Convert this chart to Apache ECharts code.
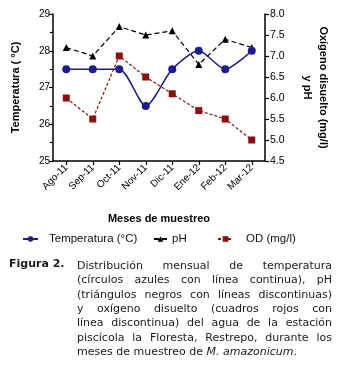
<!DOCTYPE html>
<html><head><meta charset="utf-8">
<script src="https://cdn.jsdelivr.net/npm/echarts@6/dist/echarts.min.js"></script>
<style>html,body{margin:0;padding:0;background:#fff}#c{width:339px;height:365px}</style>
</head><body><div id="c"></div>
<script>
const categories = ['Ago-11','Sep-11','Oct-11','Nov-11','Dic-11','Ene-12','Feb-12','Mar-12'];
const temperatura = [27.5, 27.5, 27.5, 26.5, 27.5, 28.0, 27.5, 28.0];
const ph = [7.2, 7.0, 7.7, 7.5, 7.6, 6.8, 7.4, 7.2];
const od = [6.0, 5.5, 7.0, 6.5, 6.1, 5.7, 5.5, 5.0];
const leftTicks = {min: 25, max: 29, interval: 1};
const rightTicks = {min: 4.5, max: 8, interval: 0.5};
const seriesNames = ['Temperatura (°C)', 'pH', 'OD (mg/l)'];
const captionLines = [
  'Distribución mensual de temperatura',
  '(círculos azules con línea continua), pH',
  '(triángulos negros con líneas discontinuas)',
  'y oxígeno disuelto (cuadros rojos con',
  'línea discontinua) del agua de la estación',
  'piscícola la Floresta, Restrepo, durante los'
];

const FONT = 'Liberation Sans, Arial, sans-serif';
const CAP_FONT = 'DejaVu Sans';
const CAP_SIZE = 11;
const capX0 = 77, capX1 = 332, capY0 = 266, capLH = 14.4;

const ctx = document.createElement('canvas').getContext('2d');
function w(t, style) { ctx.font = (style||'') + ' ' + CAP_SIZE + 'px "' + CAP_FONT + '"'; return ctx.measureText(t).width; }

const graphics = [];
graphics.push({type:'text', left: 9, top: capY0 - 7, style:{text:'Figura 2.', font:'bold ' + CAP_SIZE + 'px "' + CAP_FONT + '"', fill:'#1a1a1a'}});
captionLines.forEach((line, i) => {
  const words = line.split(' ');
  const total = words.reduce((s, x) => s + w(x), 0);
  const gap = (capX1 - capX0 - total) / (words.length - 1);
  let x = capX0;
  words.forEach(word => {
    graphics.push({type:'text', x: x, y: capY0 + i*capLH, style:{text: word, font: CAP_SIZE + 'px "' + CAP_FONT + '"', fill:'#1a1a1a', verticalAlign:'middle'}});
    x += w(word) + gap;
  });
});
{
  const y = capY0 + 6*capLH;
  const a = 'meses de muestreo de ', b = 'M. amazonicum', c = '.';
  graphics.push({type:'text', x: capX0, y: y, style:{text:a, font: CAP_SIZE + 'px "' + CAP_FONT + '"', fill:'#1a1a1a', verticalAlign:'middle'}});
  graphics.push({type:'text', x: capX0 + w(a), y: y, style:{text:b, font: 'italic ' + CAP_SIZE + 'px "' + CAP_FONT + '"', fill:'#1a1a1a', verticalAlign:'middle'}});
  graphics.push({type:'text', x: capX0 + w(a) + w(b,'italic'), y: y, style:{text:c, font: CAP_SIZE + 'px "' + CAP_FONT + '"', fill:'#1a1a1a', verticalAlign:'middle'}});
}

const chart = echarts.init(document.getElementById('c'), null, {renderer:'canvas'});
const axisLine = {show: true, lineStyle: {color: '#000', width: 1.5}};
const legendLeft = [22, 153, 217];
const legendIconW = [15, 13, 15];
const legendPad = [6, 0, 8];
const legends = seriesNames.map((n, i) => ({
  left: legendLeft[i], top: 233, padding: 0, itemWidth: legendIconW[i], itemHeight: 7,
  textStyle: {fontSize: 11.5, color: '#111', fontFamily: FONT, padding: [0, 0, 0, legendPad[i]]},
  data: [n]
}));
chart.setOption({
  animation: false,
  textStyle: {fontFamily: FONT},
  grid: {left: 53, right: 74, top: 14, bottom: 204},
  legend: legends,
  xAxis: {
    type: 'category', data: categories, boundaryGap: true,
    name: 'Meses de muestreo', nameLocation: 'middle', nameGap: 52,
    nameTextStyle: {fontWeight: 'bold', fontSize: 11, color: '#000', fontFamily: FONT},
    axisLine: axisLine,
    axisTick: {show: true, alignWithLabel: true, length: 4, lineStyle: {color: '#000', width: 1.2}},
    axisLabel: {color: '#000', fontSize: 10, rotate: 45, margin: 5, fontFamily: FONT, interval: 0},
    splitLine: {show: false}
  },
  yAxis: [
    {
      type: 'value', position: 'left', min: leftTicks.min, max: leftTicks.max, interval: leftTicks.interval,
      axisLine: axisLine, splitLine: {show: false},
      axisTick: {show: true, length: 4, lineStyle: {color: '#000', width: 1.2}},
      minorTick: {show: true, splitNumber: 2, length: 3, lineStyle: {color: '#000', width: 1.2}},
      axisLabel: {color: '#000', fontSize: 10, fontFamily: FONT, margin: 3},
      name: 'Temperatura ( °C)', nameLocation: 'middle', nameGap: 32, nameRotate: 90,
      nameTextStyle: {fontWeight: 'bold', fontSize: 11, color: '#000', fontFamily: FONT}
    },
    {
      type: 'value', position: 'right', min: rightTicks.min, max: rightTicks.max, interval: rightTicks.interval,
      axisLine: axisLine, splitLine: {show: false},
      axisTick: {show: true, length: 4, lineStyle: {color: '#000', width: 1.2}},
      axisLabel: {color: '#000', fontSize: 10.5, fontFamily: FONT, margin: 5, formatter: v => v.toFixed(1)},
      name: 'Oxígeno disuelto (mg/l)\ny pH', nameLocation: 'middle', nameGap: 34, nameRotate: -90,
      nameTextStyle: {fontWeight: 'bold', fontSize: 11, color: '#000', fontFamily: FONT, align: 'center', lineHeight: 16}
    }
  ],
  series: [
    {name: seriesNames[0], type: 'line', yAxisIndex: 0, data: temperatura, smooth: 0.25,
     symbol: 'circle', symbolSize: 8, z: 3,
     lineStyle: {color: '#1c1c8c', width: 1.5}, itemStyle: {color: '#1c1c8c'}},
    {name: seriesNames[1], type: 'line', yAxisIndex: 1, data: ph,
     symbol: 'triangle', symbolSize: 7, z: 2,
     lineStyle: {color: '#000', width: 1.2, type: [5, 3]}, itemStyle: {color: '#000'}},
    {name: seriesNames[2], type: 'line', yAxisIndex: 1, data: od,
     symbol: 'rect', symbolSize: 7, z: 2,
     lineStyle: {color: '#8b1010', width: 1.2, type: [3, 2]}, itemStyle: {color: '#8b1010'}}
  ],
  graphic: graphics
});
</script></body></html>
